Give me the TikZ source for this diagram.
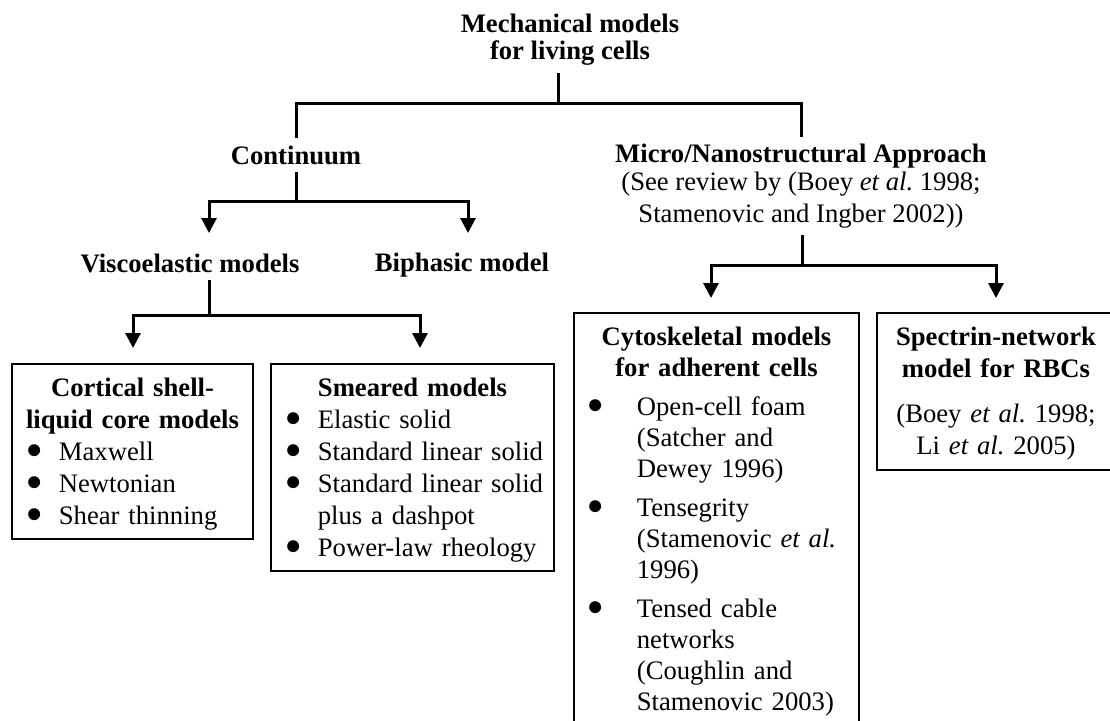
\documentclass[tikz,border=0pt]{standalone}
\usepackage{fontspec}
\setmainfont{Liberation Serif}
\usetikzlibrary{arrows.meta}

\newlength{\bulpos}
\newlength{\bulind}
\newcommand{\bigdot}{\raisebox{0.8pt}{\fontsize{12.5}{14}\selectfont ●}}
\newcommand{\bit}[1]{\par\noindent\makebox[\bulind][l]{\hspace{\bulpos}\bigdot}#1}
\newcommand{\bcont}[1]{\par\noindent\hspace*{\bulind}#1}
\newcommand{\topstr}{\rule{0pt}{11.9pt}}
\frenchspacing

\begin{document}
\begin{tikzpicture}[x=0.45pt,y=-0.45pt,
  font=\fontsize{12}{14.4}\selectfont,
  head/.style={font=\fontsize{12}{14.4}\selectfont\bfseries, align=center, inner sep=3pt},
  box/.style={draw, line width=0.9pt, anchor=north west, align=left,
    inner xsep=4pt, inner ysep=2.5pt,
    execute at begin node={\setlength{\bulpos}{2.2pt}\setlength{\bulind}{17.1pt}}},
  widebox/.style={box, font=\fontsize{12}{14}\selectfont,
    execute at begin node={\setlength{\bulpos}{1.8pt}\setlength{\bulind}{24.3pt}}},
  conn/.style={line width=1.35pt},
  arr/.style={conn, -{Triangle[width=6.75pt,length=6.75pt]}}]
\path[use as bounding box, fill=white] (0,0) rectangle (1110,720);

\node[head] (root) at (570,40) {Mechanical models\\[-2.2pt]for living cells};
\node[head] (cont) at (296,155) {Continuum};
\node[head] (micro) at (801,186) {Micro/Nanostructural Approach\\[-1.8pt]{\mdseries (See review by (Boey \emph{et al.} 1998;}\\{\mdseries Stamenovic and Ingber 2002))}};
\node[head] (visco) at (190,263) {Viscoelastic models};
\node[head] (biph) at (462,265) {Biphasic model};

\node[box, text width=100.45pt] (cort) at (11,363) {{\centering\bfseries\topstr Cortical shell-\\liquid core models\par}
  \bit{Maxwell}
  \bit{Newtonian}
  \bit{Shear thinning\strut}};
\node[box, text width=119.35pt] (smear) at (270,363) {{\centering\bfseries\topstr Smeared models\par}
  \bit{Elastic solid}
  \bit{Standard linear solid}
  \bit{Standard linear solid}
  \bcont{plus a dashpot}
  \bit{Power-law rheology\strut}};
\node[widebox, text width=120.25pt] (cyto) at (573,312) {{\centering\bfseries\topstr Cytoskeletal models\\for adherent cells\par}
  \vspace{3.6pt}
  \bit{Open-cell foam}
  \bcont{(Satcher and}
  \bcont{Dewey 1996)}
  \vspace{3.5pt}
  \bit{Tensegrity}
  \bcont{(Stamenovic \emph{et al.}}
  \bcont{1996)}
  \vspace{3.5pt}
  \bit{Tensed cable}
  \bcont{networks}
  \bcont{(Coughlin and}
  \bcont{Stamenovic 2003)\strut}};
\node[box, text width=99.1pt] (spec) at (876,312) {{\centering\bfseries\topstr Spectrin-network\\model for RBCs\par}
  \vspace{6pt}
  {\centering (Boey \emph{et al.} 1998;\\Li \emph{et al.} 2005)\strut\par}};

% junctions and arrow ends
\coordinate (rj) at (558,103);
\coordinate (cj) at (296,201);
\coordinate (vj) at (209,315);
\coordinate (mj) at (802,265);
\coordinate (t1) at (209,233);
\coordinate (t2) at (468,233);
\coordinate (t3) at (133,348);
\coordinate (t4) at (420,348);
\coordinate (t5) at (711,298);
\coordinate (t6) at (996,298);

\draw[conn] (root.south -| rj) -- (rj);
\draw[conn] (rj) -| (cont.north);
\draw[conn] (rj) -| (micro.north);

\draw[conn] (cont.south) -- (cj);
\draw[arr] (cj) -| (t1);
\draw[arr] (cj) -| (t2);

\draw[conn] (visco.south -| vj) -- (vj);
\draw[arr] (vj) -| (t3);
\draw[arr] (vj) -| (t4);

\draw[conn] (micro.south -| mj) -- (mj);
\draw[arr] (mj) -| (t5);
\draw[arr] (mj) -| (t6);
\end{tikzpicture}
\end{document}
